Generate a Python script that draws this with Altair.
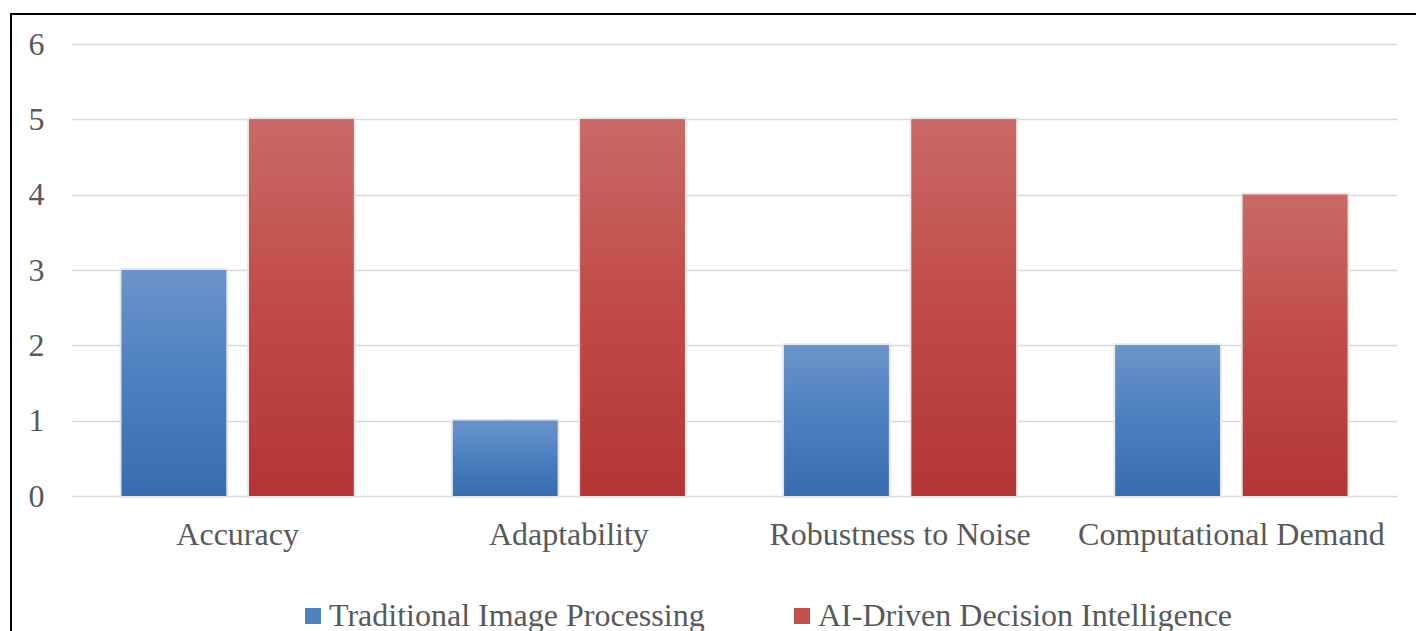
import altair as alt
import pandas as pd

categories = ["Accuracy", "Adaptability", "Robustness to Noise", "Computational Demand"]
series_names = ["Traditional Image Processing", "AI-Driven Decision Intelligence"]
traditional = [3, 1, 2, 2]
ai_driven = [5, 5, 5, 4]
y_ticks = [0, 1, 2, 3, 4, 5, 6]

rows = []
for c, t, a in zip(categories, traditional, ai_driven):
    rows.append({"Category": c, "Series": series_names[0], "Value": t})
    rows.append({"Category": c, "Series": series_names[1], "Value": a})
df = pd.DataFrame(rows)

FONT = "Liberation Serif"
TXT = "#595959"
FS = 32

grad_blue = alt.Gradient(
    gradient="linear", x1=0, x2=0, y1=0, y2=1,
    stops=[alt.GradientStop(color="#6c94ca", offset=0),
           alt.GradientStop(color="#4a7fc0", offset=0.5),
           alt.GradientStop(color="#386cb0", offset=1)],
)
grad_red = alt.Gradient(
    gradient="linear", x1=0, x2=0, y1=0, y2=1,
    stops=[alt.GradientStop(color="#c96a66", offset=0),
           alt.GradientStop(color="#c04a47", offset=0.5),
           alt.GradientStop(color="#b33634", offset=1)],
)

x_enc = alt.X(
    "Category:N", sort=categories, title=None,
    scale=alt.Scale(paddingInner=0.3, paddingOuter=0.15),
    axis=alt.Axis(labelAngle=0, labelFont=FONT, labelFontSize=FS, labelColor=TXT,
                  labelPadding=23, labelLimit=0, ticks=False, tickSize=0,
                  domain=False, grid=False),
)
xo_enc = alt.XOffset("Series:N", sort=series_names,
                     scale=alt.Scale(paddingInner=0.18, paddingOuter=0))
y_enc = alt.Y(
    "Value:Q", title=None,
    scale=alt.Scale(domain=[0, 6], nice=False),
    axis=alt.Axis(values=y_ticks, labelFont=FONT, labelFontSize=FS, labelColor=TXT,
                  labelPadding=28, ticks=False, tickSize=0, domain=False,
                  grid=True, gridColor="#d9d9d9", gridWidth=1.6),
)

base = alt.Chart(df)

shadow = base.mark_bar(fill="#ebebeb", stroke="#e6e6e6", strokeWidth=4).encode(
    x=x_enc, xOffset=xo_enc, y=y_enc
)

legend_bars = base.mark_bar().encode(
    x=x_enc, xOffset=xo_enc, y=y_enc,
    color=alt.Color(
        "Series:N", sort=series_names,
        scale=alt.Scale(domain=series_names, range=["#4f81bd", "#c0504d"]),
        legend=alt.Legend(
            title=None, orient="none", direction="horizontal",
            legendX=225, legendY=556,
            symbolType="square", symbolSize=256, symbolStrokeWidth=0,
            labelFont=FONT, labelFontSize=FS, labelColor=TXT, labelLimit=0,
            labelOffset=0, columnPadding=81,
        ),
    ),
)

blue_bars = base.mark_bar(fill=grad_blue).encode(
    x=x_enc, xOffset=xo_enc, y=y_enc
).transform_filter(alt.datum.Series == series_names[0])

red_bars = base.mark_bar(fill=grad_red).encode(
    x=x_enc, xOffset=xo_enc, y=y_enc
).transform_filter(alt.datum.Series == series_names[1])

border_df = pd.DataFrame({"k": [0]})
border = alt.Chart(border_df).mark_rect(
    fillOpacity=0, stroke="black", strokeWidth=2
).encode(
    x=alt.value(-61), x2=alt.value(1370), y=alt.value(-30), y2=alt.value(610)
)

chart = alt.layer(shadow, legend_bars, blue_bars, red_bars, border).properties(
    width=1325, height=452,
    autosize=alt.AutoSizeParams(type="none"),
    padding={"left": 72, "top": 44, "right": 19, "bottom": 135},
    background="white",
).configure_view(strokeWidth=0, stroke="transparent")

chart.save("out.html", embed_options={"renderer": "svg", "actions": False})
